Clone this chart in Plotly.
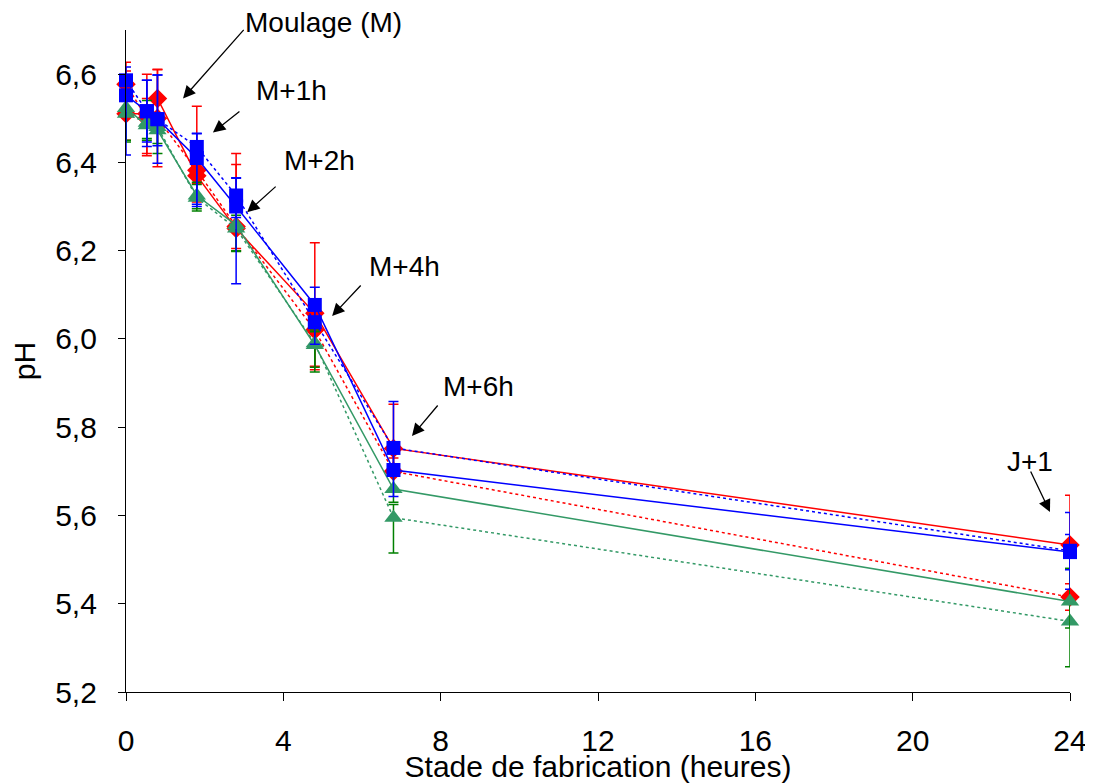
import plotly.graph_objects as go

# Time points (hours)
times = [0, 0.53, 0.8, 1.8, 2.8, 4.8, 6.8, 24]

# pH series (values, upper error, lower error)
red_solid = [6.51, 6.51, 6.545, 6.37, 6.25, 6.058, 5.752, 5.533]
red_solid_up = [0.117, 0.09, 0.066, 0.157, 0.17, 0.16, 0.10, 0.113]
red_solid_dn = [0.06, 0.09, 0.06, 0.06, 0.05, 0.12, 0.05, 0.115]

red_dot = [6.577, 6.50, 6.50, 6.382, 6.255, 6.02, 5.70, 5.415]
red_dot_up = [0.03, 0.045, 0.11, 0.03, 0.14, 0.03, 0.03, 0.03]
red_dot_dn = [0.03, 0.085, 0.11, 0.03, 0.05, 0.09, 0.01, 0.03]

blue_solid = [6.552, 6.516, 6.498, 6.41, 6.30, 6.077, 5.703, 5.517]
blue_solid_up = [0.03, 0.07, 0.10, 0.056, 0.064, 0.04, 0.04, 0.04]
blue_solid_dn = [0.135, 0.08, 0.10, 0.11, 0.175, 0.04, 0.06, 0.04]

blue_dot = [6.586, 6.516, 6.498, 6.435, 6.325, 6.038, 5.753, 5.52]
blue_dot_up = [0.03, 0.07, 0.10, 0.03, 0.04, 0.05, 0.105, 0.087]
blue_dot_dn = [0.03, 0.07, 0.06, 0.13, 0.05, 0.05, 0.05, 0.087]

green_solid = [6.523, 6.484, 6.473, 6.325, 6.258, 5.986, 5.66, 5.405]
green_solid_up = [0.03, 0.056, 0.03, 0.03, 0.03, 0.03, 0.03, 0.075]
green_solid_dn = [0.077, 0.03, 0.03, 0.03, 0.06, 0.05, 0.03, 0.06]

green_dot = [6.51, 6.49, 6.48, 6.32, 6.25, 5.99, 5.595, 5.36]
green_dot_up = [0.03, 0.03, 0.03, 0.03, 0.03, 0.03, 0.03, 0.12]
green_dot_dn = [0.06, 0.04, 0.06, 0.03, 0.05, 0.065, 0.08, 0.103]

x_ticks = [0, 4, 8, 12, 16, 20, 24]
y_ticks = [5.2, 5.4, 5.6, 5.8, 6.0, 6.2, 6.4, 6.6]

RED = "#ff0000"
BLUE = "#0000ff"
GREEN = "#339966"
GREEN_ERR = "#008000"

fig = go.Figure()

def add(y, up, dn, color, ecolor, symbol, size, dash):
    fig.add_trace(go.Scatter(
        x=times, y=y, mode="lines+markers",
        line=dict(color=color, width=1.5, dash=dash),
        marker=dict(color=color, symbol=symbol, size=size, line=dict(width=0)),
        error_y=dict(type="data", symmetric=False, array=up, arrayminus=dn,
                     visible=True, color=ecolor, thickness=1.5, width=5),
        cliponaxis=False, showlegend=False,
    ))

add(red_dot, red_dot_up, red_dot_dn, RED, RED, "diamond", 15, "dot")
add(red_solid, red_solid_up, red_solid_dn, RED, RED, "diamond", 15, "solid")
add(green_dot, green_dot_up, green_dot_dn, GREEN, GREEN_ERR, "triangle-up", 16, "dot")
add(green_solid, green_solid_up, green_solid_dn, GREEN, GREEN_ERR, "triangle-up", 16, "solid")
add(blue_dot, blue_dot_up, blue_dot_dn, BLUE, BLUE, "square", 14, "dot")
add(blue_solid, blue_solid_up, blue_solid_dn, BLUE, BLUE, "square", 14, "solid")

FONT = "Liberation Sans, Arial, sans-serif"

# Annotations: labels (paper y for the top one) and arrows
labels = ["M+1h", "M+2h", "M+4h", "M+6h", "J+1"]
label_x = [4.2, 4.93, 7.09, 8.95, 22.98]
label_y = [6.564, 6.405, 6.165, 5.893, 5.723]
head_x = [1.45, 2.21, 3.08, 5.24, 7.27, 23.49]
head_y = [6.545, 6.468, 6.287, 6.052, 5.78, 5.608]
tail_dx = [62, 28, 30, 30, 27, -20]
tail_dy = [-70, -22, -27, -32, -32, -42]

fig.add_annotation(x=5.01, xref="x", y=1.012, yref="paper", text="Moulage (M)",
                   xanchor="center", yanchor="middle",
                   showarrow=False, font=dict(family=FONT, size=28, color="black"))
for t, lx, ly in zip(labels, label_x, label_y):
    fig.add_annotation(x=lx, y=ly, text=t, showarrow=False,
                       xanchor="center", yanchor="middle",
                       font=dict(family=FONT, size=28, color="black"))
for hx, hy, dx, dy in zip(head_x, head_y, tail_dx, tail_dy):
    fig.add_annotation(x=hx, y=hy, text="", showarrow=True, ax=dx, ay=dy,
                       arrowhead=2, arrowsize=1.9, arrowwidth=1.3,
                       arrowcolor="black")

# Page has an 8px body margin: size figure so the plot area lands where intended
fig.update_layout(
    width=1085, height=775,
    margin=dict(l=118, r=23, t=22, b=91),
    paper_bgcolor="white", plot_bgcolor="white",
    separators=",.",
    font=dict(family=FONT, size=30, color="black"),
    xaxis=dict(range=[0, 24], tickvals=x_ticks, showgrid=False, zeroline=False,
               showline=True, linecolor="black", linewidth=1.2,
               ticks="outside", ticklen=8, tickcolor="black",
               ticklabelstandoff=14, automargin=False,
               title=dict(text="Stade de fabrication (heures)", standoff=0,
                          font=dict(size=30))),
    yaxis=dict(range=[5.2, 6.7], tickvals=y_ticks, tickformat=".1f",
               showgrid=False, zeroline=False,
               showline=True, linecolor="black", linewidth=1.2,
               ticks="outside", ticklen=7, tickcolor="black",
               ticklabelstandoff=15, automargin=False,
               title=dict(text="pH", standoff=20, font=dict(size=30))),
)

fig.write_html("out.html")
